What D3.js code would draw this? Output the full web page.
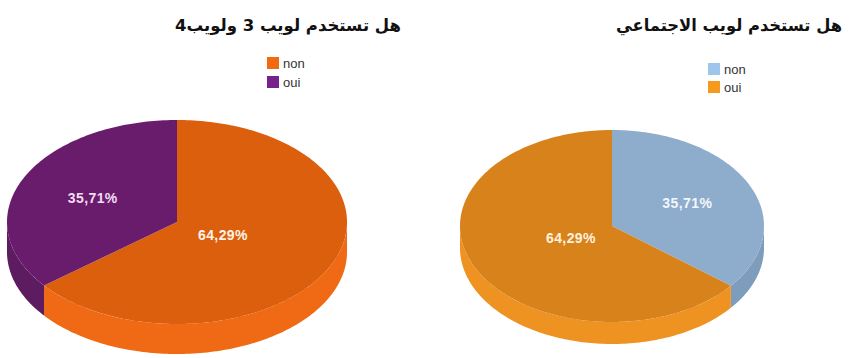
<!DOCTYPE html>
<html>
<head>
<meta charset="utf-8">
<script src="https://cdn.jsdelivr.net/npm/d3@7"></script>
<style>
  html, body { margin: 0; padding: 0; background: #fff; }
  svg { display: block; }
</style>
</head>
<body>
<svg id="chart" width="850" height="358"></svg>
<script>
// Survey answers, one pie per question
const categories = ["non", "oui"];
const titles = ["هل تستخدم لويب 3 ولويب4", "هل تستخدم لويب الاجتماعي"];
const web34Values = [64.29, 35.71];
const socialWebValues = [35.71, 64.29];
const valueLabels = [["64,29%", "35,71%"], ["35,71%", "64,29%"]];

// Per-chart styling and layout
const charts = [
  {
    values: web34Values, labels: valueLabels[0], title: titles[0],
    cx: 177, cy: 222, rx: 170, ry: 102, depth: 30,
    titleX: 288, titleY: 31, titleW: 226,
    legendX: 267, legendY: 57, legendStep: 19,
    top: ["#dc5f0b", "#6a1f6c"], side: ["#f06a12", "#5c1a5e"], swatch: ["#f26a10", "#76228a"],
    labelColor: ["#fff3e6", "#f3dcf3"]
  },
  {
    values: socialWebValues, labels: valueLabels[1], title: titles[1],
    cx: 612, cy: 226, rx: 152, ry: 96, depth: 22,
    titleX: 729, titleY: 31, titleW: 226,
    legendX: 708, legendY: 63, legendStep: 18,
    top: ["#8eaccc", "#d8821a"], side: ["#7e9dbd", "#ee9222"], swatch: ["#9dc6ea", "#f59a1f"],
    labelColor: ["#f2f6fb", "#fff1dc"]
  }
];

const svg = d3.select("#chart");
const defs = svg.append("defs");
defs.append("filter").attr("id", "soft")
  .append("feGaussianBlur").attr("stdDeviation", 0.6);

const pie = d3.pie().sort(null).startAngle(0).endAngle(2 * Math.PI);

charts.forEach(c => {
  const g = svg.append("g");
  // point on the tilted rim; angle measured clockwise from 12 o'clock
  const pt = (a, dy = 0) => [c.cx + c.rx * Math.sin(a), c.cy - c.ry * Math.cos(a) + dy];
  const arcPts = (a0, a1, dy = 0) => {
    const n = Math.max(2, Math.ceil(Math.abs(a1 - a0) / 0.02));
    return d3.range(n + 1).map(i => pt(a0 + (a1 - a0) * i / n, dy));
  };
  const line = d3.line();
  const arcs = pie(c.values);

  const pieG = g.append("g").attr("filter", "url(#soft)");

  // visible side wall: the front half of the rim, between 90° and 270°
  arcs.forEach((d, i) => {
    const a0 = Math.max(d.startAngle, Math.PI / 2);
    const a1 = Math.min(d.endAngle, 3 * Math.PI / 2);
    if (a1 <= a0) return;
    const pts = arcPts(a0, a1).concat(arcPts(a1, a0, c.depth));
    pieG.append("path").attr("d", line(pts) + "Z").attr("fill", c.side[i]);
  });

  // top faces
  arcs.forEach((d, i) => {
    const pts = [[c.cx, c.cy]].concat(arcPts(d.startAngle, d.endAngle));
    pieG.append("path").attr("d", line(pts) + "Z").attr("fill", c.top[i]);
  });

  // value labels
  arcs.forEach((d, i) => {
    const mid = (d.startAngle + d.endAngle) / 2;
    const share = (d.endAngle - d.startAngle) / (2 * Math.PI);
    const k = share < 0.5 ? 0.55 : 0.3;
    const x = c.cx + c.rx * k * Math.sin(mid);
    const y = c.cy - c.ry * k * Math.cos(mid);
    g.append("text")
      .attr("x", x).attr("y", y)
      .attr("text-anchor", "middle").attr("dominant-baseline", "central")
      .attr("font-family", "'Liberation Sans Narrow', 'Liberation Sans', Arial, sans-serif")
      .attr("font-weight", "bold").attr("font-size", 14)
      .attr("letter-spacing", 0.4)
      .attr("fill", c.labelColor[i])
      .text(c.labels[i]);
  });

  // title
  g.append("text")
    .attr("x", c.titleX).attr("y", c.titleY)
    .attr("text-anchor", "middle")
    .attr("direction", "rtl")
    .attr("font-family", "'DejaVu Sans', sans-serif")
    .attr("font-weight", "bold").attr("font-size", 16.5)
    .attr("textLength", c.titleW).attr("lengthAdjust", "spacingAndGlyphs")
    .attr("fill", "#111")
    .text(c.title);

  // legend
  const lg = g.append("g");
  categories.forEach((cat, i) => {
    const y = c.legendY + i * c.legendStep;
    lg.append("rect").attr("x", c.legendX).attr("y", y)
      .attr("width", 12).attr("height", 12).attr("fill", c.swatch[i]);
    lg.append("text").attr("x", c.legendX + 16).attr("y", y + 6)
      .attr("dominant-baseline", "central")
      .attr("font-family", "'Liberation Sans', Arial, sans-serif")
      .attr("font-size", 13).attr("fill", "#333")
      .text(cat);
  });
});
</script>
</body>
</html>
